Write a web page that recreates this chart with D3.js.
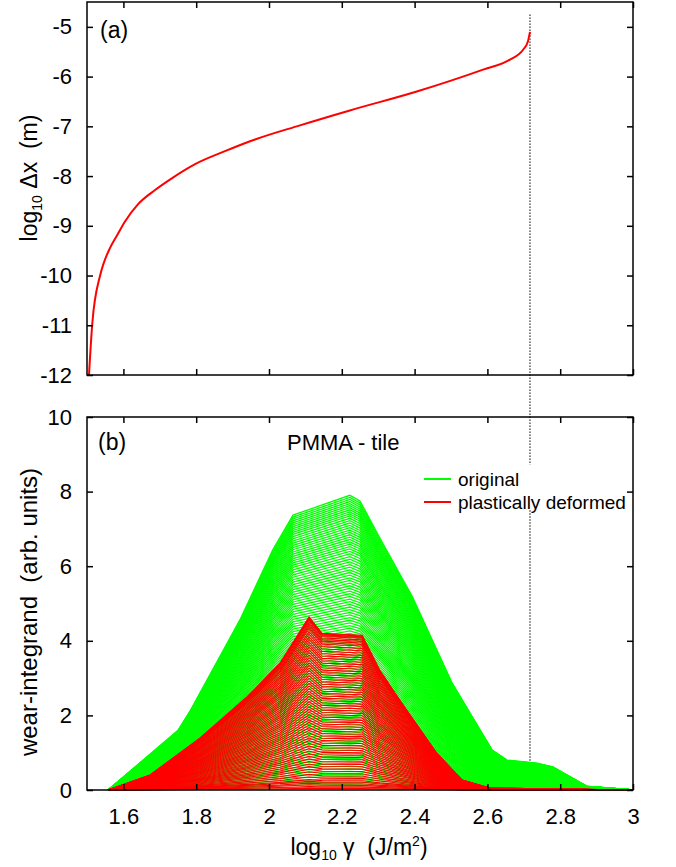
<!DOCTYPE html>
<html>
<head>
<meta charset="utf-8">
<script src="https://cdn.jsdelivr.net/npm/d3@7"></script>
<style>
  body { margin: 0; background: #fff; }
  text { font-family: "Liberation Sans", Arial, sans-serif; fill: #000; white-space: pre; }
</style>
</head>
<body>
<svg id="chart" width="676" height="867"></svg>
<script>
// (a) log10 dx vs log10 gamma
var gammaA = [1.5055, 1.5146, 1.536, 1.545, 1.563, 1.582, 1.604, 1.641, 1.687, 1.734, 1.797, 1.879, 1.948, 2.085, 2.222, 2.406, 2.588, 2.662, 2.698, 2.711, 2.717];
var logDx  = [-12, -10.96, -10.0, -9.77, -9.45, -9.20, -8.92, -8.56, -8.28, -8.04, -7.76, -7.50, -7.30, -6.98, -6.68, -6.30, -5.86, -5.66, -5.46, -5.30, -5.10];

// (b) wear integrand, upper envelope of each family
var greenX   = [1.558, 1.75, 1.785, 1.92, 2.01, 2.066, 2.222, 2.25, 2.305, 2.393, 2.503, 2.613, 2.654, 2.736, 2.78, 2.873, 3.0];
var greenTop = [0, 1.6, 2.15, 4.56, 6.43, 7.37, 7.9, 7.75, 6.75, 5.2, 2.87, 1.07, 0.8, 0.72, 0.62, 0.1, 0];
var redX     = [1.558, 1.673, 1.81, 1.94, 2.03, 2.11, 2.146, 2.256, 2.305, 2.36, 2.46, 2.53, 2.607, 3.0];
var redTop   = [0, 0.4, 1.39, 2.5, 3.4, 4.64, 4.2, 4.15, 3.2, 2.4, 1.0, 0.27, 0.05, 0];

// relative heights of the individual curves
var greenLevels = [1.00,0.993,0.986,0.979,0.972,0.965,0.958,0.951,0.944,0.937,0.93,0.922,0.914,0.906,0.898,0.89,0.882,0.874,0.866,0.858,0.85,0.842,0.834,0.826,0.818,0.81,0.801,0.792,0.783,0.774,0.765,0.756,0.747,0.738,0.729,0.72,0.711,0.702,0.693,0.684,0.675,0.666,0.657,0.648,0.639,0.63,0.621,0.612,0.603,0.594,0.585,0.576,0.567,0.558,0.549,0.54,0.531,0.522,0.513,0.504,0.495,0.486,0.477,0.468,0.459,0.45,0.441,0.432,0.423,0.414,0.405,0.396,0.387,0.378,0.369,0.36,0.351,0.342,0.333,0.324,0.315,0.306,0.297,0.288,0.279,0.27,0.261,0.252,0.243,0.234,0.225,0.216,0.207,0.198,0.189,0.18,0.171,0.162,0.153,0.144,0.135,0.126,0.117,0.108,0.099,0.09,0.081,0.072,0.063,0.054,0.045,0.036,0.027,0.018,0.009];
var redLevels = [1.00,0.995,0.99,0.985,0.98,0.97,0.96,0.95,0.94,0.93,0.915,0.90,0.885,0.87,0.855,0.84,0.825,0.81,0.795,0.78,0.765,0.75,0.735,0.72,0.705,0.69,0.675,0.66,0.645,0.63,0.615,0.60,0.585,0.57,0.555,0.54,0.525,0.51,0.495,0.48,0.465,0.45,0.435,0.42,0.405,0.39,0.375,0.36,0.345,0.33,0.315,0.30,0.285,0.27,0.255,0.24,0.225,0.21,0.195,0.18,0.165,0.15,0.135,0.12,0.105,0.09,0.075,0.06,0.05,0.04,0.03,0.02,0.01];

var xTicks = [1.6, 1.8, 2, 2.2, 2.4, 2.6, 2.8, 3];
var yTicksA = [-12, -11, -10, -9, -8, -7, -6, -5];
var yTicksB = [0, 2, 4, 6, 8, 10];
var cutoff = 2.717;

var svg = d3.select("#chart");
var left = 87, right = 633;
var x = d3.scaleLinear().domain([1.5, 3]).range([left, right]);
var yA = d3.scaleLinear().domain([-12, -4.5]).range([375, 2]);
var yB = d3.scaleLinear().domain([0, 10]).range([790, 417]);
var plain = function(d) { return String(d); };

function styleAxis(g) {
  g.select(".domain").remove();
  g.selectAll("line").attr("stroke", "#000").attr("stroke-width", 1.5);
  g.selectAll("text").attr("font-size", 22).attr("font-family", "Liberation Sans, Arial, sans-serif");
}

function frame(y, top, bottom, yTicks, showX) {
  svg.append("g").attr("transform", "translate(" + left + ",0)")
    .call(d3.axisLeft(y).tickValues(yTicks).tickSize(-6).tickPadding(15).tickFormat(plain))
    .call(styleAxis);
  svg.append("g").attr("transform", "translate(" + right + ",0)")
    .call(d3.axisRight(y).tickValues(yTicks).tickSize(-6).tickFormat(""))
    .call(styleAxis);
  svg.append("g").attr("transform", "translate(0," + bottom + ")")
    .call(d3.axisBottom(x).tickValues(xTicks).tickSize(-6).tickPadding(18).tickFormat(showX ? plain : ""))
    .call(styleAxis);
  svg.append("g").attr("transform", "translate(0," + top + ")")
    .call(d3.axisTop(x).tickValues(xTicks).tickSize(-6).tickFormat(""))
    .call(styleAxis);
  svg.append("rect").attr("x", left).attr("y", top)
    .attr("width", right - left).attr("height", bottom - top)
    .attr("fill", "none").attr("stroke", "#000").attr("stroke-width", 1.5);
}

// dotted line at the cutoff, broken by the key
svg.append("line")
  .attr("x1", x(cutoff)).attr("x2", x(cutoff))
  .attr("y1", yA(-4.75)).attr("y2", yB(8.72))
  .attr("stroke", "#000").attr("stroke-width", 1).attr("stroke-dasharray", "1.5,1.5");
svg.append("line")
  .attr("x1", x(cutoff)).attr("x2", x(cutoff))
  .attr("y1", yB(7.5)).attr("y2", yB(0.75))
  .attr("stroke", "#000").attr("stroke-width", 1).attr("stroke-dasharray", "1.5,1.5");

// panel (a)
var lineA = d3.line().curve(d3.curveMonotoneX)
  .x(function(d, i) { return x(gammaA[i]); }).y(function(d) { return yA(d); });
svg.append("path").attr("d", lineA(logDx)).attr("fill", "none").attr("stroke", "#ff0000").attr("stroke-width", 2);

// panel (b)
function family(xs, top, levels, colour, w) {
  var line = d3.line().x(function(d, i) { return x(xs[i]); }).y(function(d) { return yB(d); });
  svg.append("g").selectAll("path").data(levels).enter().append("path")
    .attr("d", function(k) { return line(top.map(function(v) { return v * k; })); })
    .attr("fill", "none").attr("stroke", colour).attr("stroke-width", w);
}
family(greenX, greenTop, greenLevels, "#00ff00", 1.3);
family(redX, redTop, redLevels, "#ff0000", 1.1);

frame(yA, 2, 375, yTicksA, false);
frame(yB, 417, 790, yTicksB, true);

// labels
svg.append("text").attr("x", 100).attr("y", 38).attr("font-size", 23).text("(a)");
svg.append("text").attr("x", 98).attr("y", 450).attr("font-size", 23).text("(b)");
svg.append("text").attr("x", 287).attr("y", 450).attr("font-size", 22).text("PMMA - tile");

var legend = [["original", "#00ff00"], ["plastically deformed", "#ff0000"]];
var key = svg.append("g");
legend.forEach(function(l, i) {
  var ly = 479 + i * 23;
  key.append("path").attr("d", "M424," + ly + "H451")
    .attr("fill", "none").attr("stroke", l[1]).attr("stroke-width", 2);
  key.append("text").attr("x", 458).attr("y", ly + 7).attr("font-size", 19).text(l[0]);
});

var ya = svg.append("text").attr("transform", "translate(37,178) rotate(-90)")
  .attr("text-anchor", "middle").attr("font-size", 23);
ya.append("tspan").text("log");
ya.append("tspan").attr("font-size", 14).attr("dy", 5).text("10");
ya.append("tspan").attr("dy", -5).text(" \u0394x  (m)");

svg.append("text").attr("transform", "translate(37,612) rotate(-90)")
  .attr("text-anchor", "middle").attr("font-size", 24).text("wear-integrand  (arb. units)");

var xl = svg.append("text").attr("x", 359).attr("y", 855).attr("text-anchor", "middle").attr("font-size", 23);
xl.append("tspan").text("log");
xl.append("tspan").attr("font-size", 14).attr("dy", 5).text("10");
xl.append("tspan").attr("dy", -5).text(" \u03b3  (J/m");
xl.append("tspan").attr("font-size", 14).attr("dy", -9).text("2");
xl.append("tspan").attr("dy", 9).text(")");
</script>
</body>
</html>
